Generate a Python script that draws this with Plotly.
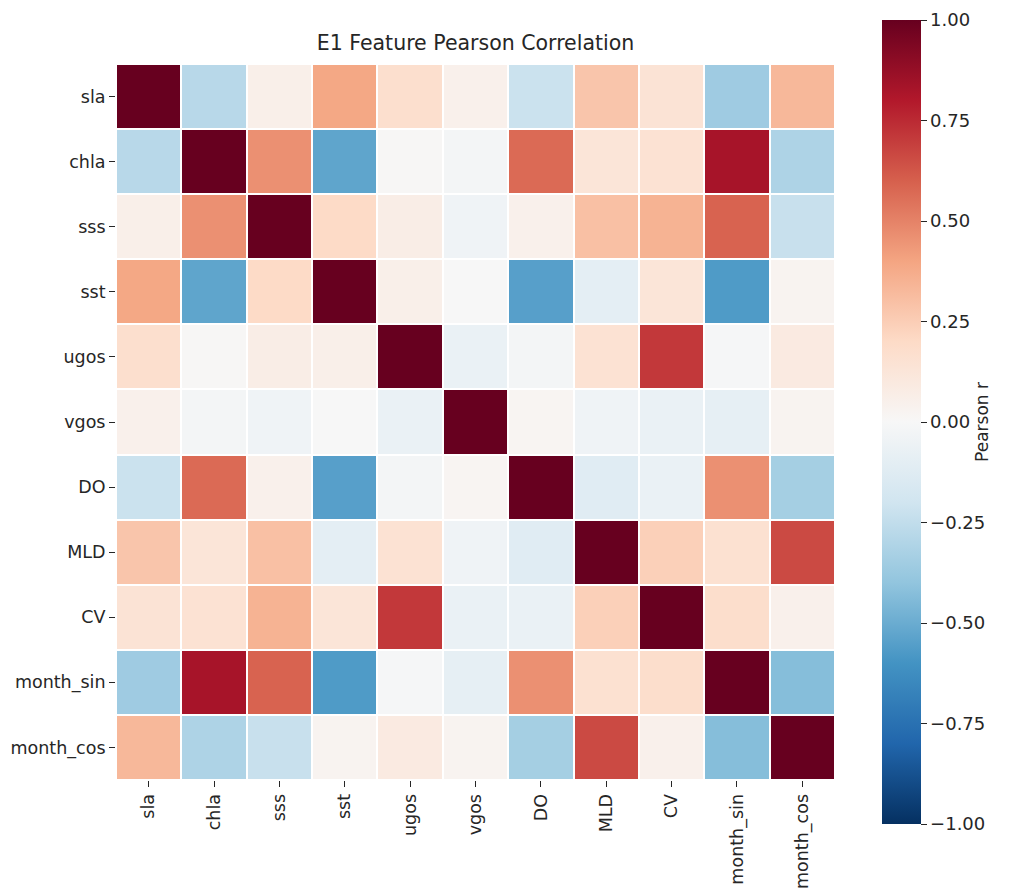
import plotly.graph_objects as go

features = ["sla", "chla", "sss", "sst", "ugos", "vgos", "DO", "MLD", "CV", "month_sin", "month_cos"]

# correlation values (rows in the order of features)
corr = [
    [1.00, -0.28, 0.06, 0.39, 0.17, 0.05, -0.22, 0.28, 0.14, -0.36, 0.33],
    [-0.28, 1.00, 0.46, -0.53, 0.01, -0.02, 0.57, 0.13, 0.15, 0.83, -0.31],
    [0.06, 0.46, 1.00, 0.20, 0.07, -0.04, 0.05, 0.30, 0.35, 0.59, -0.23],
    [0.39, -0.53, 0.20, 1.00, 0.06, 0.00, -0.55, -0.10, 0.13, -0.57, 0.03],
    [0.17, 0.01, 0.07, 0.06, 1.00, -0.07, -0.02, 0.15, 0.71, -0.01, 0.09],
    [0.05, -0.02, -0.04, 0.00, -0.07, 1.00, 0.02, -0.04, -0.07, -0.09, 0.03],
    [-0.22, 0.57, 0.05, -0.55, -0.02, 0.02, 1.00, -0.12, -0.07, 0.46, -0.34],
    [0.28, 0.13, 0.30, -0.10, 0.15, -0.04, -0.12, 1.00, 0.24, 0.16, 0.66],
    [0.14, 0.15, 0.35, 0.13, 0.71, -0.07, -0.07, 0.24, 1.00, 0.18, 0.05],
    [-0.36, 0.83, 0.59, -0.57, -0.01, -0.09, 0.46, 0.16, 0.18, 1.00, -0.43],
    [0.33, -0.31, -0.23, 0.03, 0.09, 0.03, -0.34, 0.66, 0.05, -0.43, 1.00],
]

cbar_ticks = [-1.0, -0.75, -0.5, -0.25, 0.0, 0.25, 0.5, 0.75, 1.0]

# matplotlib RdBu_r
rdbu_r = ["#053061", "#2166ac", "#4393c3", "#92c5de", "#d1e5f0", "#f7f7f7",
          "#fddbc7", "#f4a582", "#d6604d", "#b2182b", "#67001f"]
scale = [[i / 10, c] for i, c in enumerate(rdbu_r)]

font = "DejaVu Sans"
ink = "#262626"

fig = go.Figure()
fig.add_trace(go.Heatmap(
    z=corr, x=features, y=features,
    colorscale=scale, zmin=-1, zmax=1,
    xgap=2, ygap=2,
    colorbar=dict(
        title=dict(text="Pearson r", side="right", font=dict(family=font, size=17, color=ink)),
        tickvals=cbar_ticks, tickformat=".2f",
        ticks="outside", ticklen=6, tickcolor=ink,
        tickfont=dict(family=font, size=18, color=ink),
        thickness=39, lenmode="pixels", len=804,
        x=1.0654, xanchor="left", xpad=0, y=0.5, yanchor="middle", ypad=0,
        outlinewidth=0,
    ),
))

fig.update_layout(
    width=1016, height=895,
    margin=dict(l=108, r=189, t=52, b=123),
    paper_bgcolor="white", plot_bgcolor="white",
    title=dict(text="E1 Feature Pearson Correlation", x=(108 + 827) / 2 / 1016, xanchor="center",
               y=1 - 35 / 895, yanchor="middle",
               font=dict(family=font, size=20.5, color=ink)),
    font=dict(family=font, size=17.5, color=ink),
)
fig.update_xaxes(tickangle=-90, ticks="outside", ticklen=6, tickcolor=ink, automargin=False,
                 showgrid=False, zeroline=False, showline=False,
                 tickfont=dict(family=font, size=17.5, color=ink))
fig.update_yaxes(autorange="reversed", ticks="outside", ticklen=6, tickcolor=ink, automargin=False,
                 showgrid=False, zeroline=False, showline=False,
                 tickfont=dict(family=font, size=17.5, color=ink))

fig.write_html("out.html")
